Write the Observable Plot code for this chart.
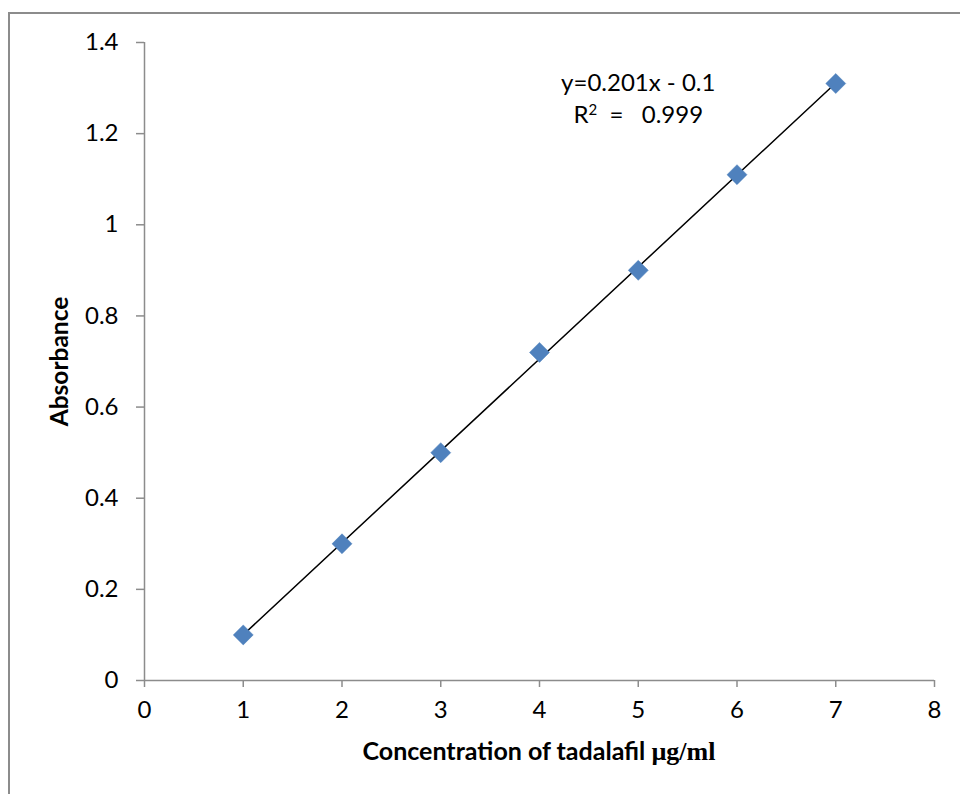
<!DOCTYPE html>
<html><head><meta charset="utf-8">
<script src="https://cdn.jsdelivr.net/npm/d3@7"></script>
<script src="https://cdn.jsdelivr.net/npm/@observablehq/plot@0.6"></script>
<style>
body{margin:0;background:#fff;}
#wrap{position:relative;width:960px;height:794px;overflow:hidden;}
#frame{position:absolute;left:8px;top:12px;width:1000px;height:800px;border-left:2px solid #8c8c8c;border-top:2px solid #8c8c8c;}
#chart{position:absolute;left:0;top:0;}
</style></head>
<body><div id="wrap"><div id="frame"></div><div id="chart"></div></div>
<script>
const concentration = [1, 2, 3, 4, 5, 6, 7];
const absorbance = [0.10, 0.30, 0.50, 0.72, 0.90, 1.11, 1.31];
const xTicks = [0, 1, 2, 3, 4, 5, 6, 7, 8];
const yTicks = [0, 0.2, 0.4, 0.6, 0.8, 1, 1.2, 1.4];
const annotationText = ["y=0.201x - 0.1", "R2  =   0.999"];
const annotationX = [5, 5];
const annotationY = [1.31, 1.24];
const xLabelMain = "Concentration of tadalafil ";
const xLabelUnit = "\u00B5g/ml";
const yLabel = "Absorbance";

const data = concentration.map((c, i) => ({c, a: absorbance[i]}));
const notes = annotationText.map((t, i) => ({t, x: annotationX[i], y: annotationY[i]}));

const plot = Plot.plot({
  width: 960, height: 794,
  marginLeft: 144, marginRight: 26, marginTop: 42, marginBottom: 114,
  style: {fontFamily: "Lato", fontSize: "24px", color: "#000", background: "transparent"},
  x: {domain: [0, 8]},
  y: {domain: [0, 1.4]},
  marks: [
    Plot.ruleY([0], {stroke: "#8c8c8c", strokeWidth: 1.5}),
    Plot.ruleX([0], {stroke: "#8c8c8c", strokeWidth: 1.5}),
    Plot.axisX({ticks: xTicks, tickSize: 7, tickPadding: 13, stroke: "#8c8c8c", strokeWidth: 1.5, fill: "#000", fontSize: 24, label: null, tickFormat: d3.format("")}),
    Plot.axisY({ticks: yTicks, tickSize: 8, tickPadding: 18, stroke: "#8c8c8c", strokeWidth: 1.5, fill: "#000", fontSize: 24, label: null, tickFormat: d3.format("")}),
    Plot.linearRegressionY(data, {x: "c", y: "a", stroke: "#000", strokeWidth: 1.5, ci: 0}),
    Plot.dot(data, {x: "c", y: "a", symbol: "diamond2", r: 9, fill: "#4F81BD", stroke: "#4A7EBB", strokeWidth: 0.5}),
    Plot.text(notes, {x: "x", y: "y", text: "t", fontSize: 24, fill: "#000", textAnchor: "middle", lineAnchor: "middle", className: "note"}),
    Plot.text([yLabel], {frameAnchor: "left", dx: -84, rotate: -90, textAnchor: "middle", lineAnchor: "middle", fontWeight: "bold", fontSize: 24.5, fill: "#000"})
  ]
});
const svg = d3.select(plot);
svg.selectAll("text").style("white-space", "pre");
// superscript for R²
svg.selectAll("text").each(function() {
  const el = d3.select(this);
  if (el.text() === annotationText[1]) {
    const s = annotationText[1];
    el.text(null);
    el.append("tspan").text(s[0]);
    el.append("tspan").attr("font-size", 15).attr("dy", "-0.55em").text(s[1]);
    el.append("tspan").attr("dy", "0.34em").text(s.slice(2));
  }
});
const xl = svg.append("text")
  .attr("x", 144 + (934 - 144) / 2 )
  .attr("y", 760)
  .attr("text-anchor", "middle")
  .attr("font-size", 25)
  .attr("font-weight", "bold")
  .attr("fill", "#000");
xl.append("tspan").attr("font-family", "Lato").style("white-space", "pre").text(xLabelMain);
xl.append("tspan").attr("font-family", "Liberation Serif").attr("font-size", 26).text(xLabelUnit);
document.getElementById("chart").appendChild(plot);
</script>
</body></html>
